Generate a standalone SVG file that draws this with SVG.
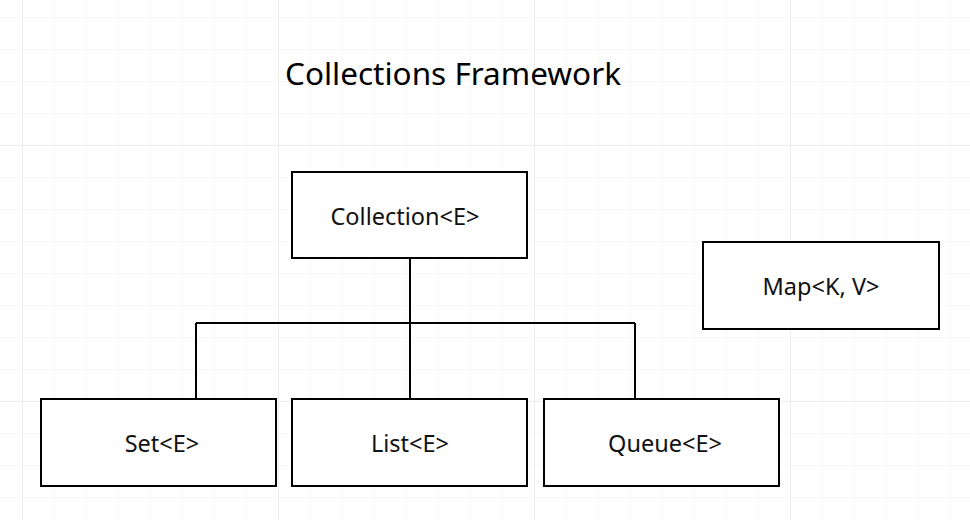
<svg xmlns="http://www.w3.org/2000/svg" width="970" height="520" viewBox="0 0 970 520">
<defs>
<pattern id="grid" x="22" y="17" width="32" height="32" patternUnits="userSpaceOnUse">
<path d="M0 0H32M0 0V32" fill="none" stroke="#f0f0f0" stroke-width="1"/>
</pattern>
<pattern id="major" x="22" y="145" width="256" height="256" patternUnits="userSpaceOnUse">
<path d="M0 0H256M0 0V256" fill="none" stroke="#e4e4e4" stroke-width="1"/>
</pattern>
</defs>
<style>
.box{fill:#fff;stroke:#000;stroke-width:2}
.lbl{font-family:"Noto Sans","Liberation Sans",sans-serif;font-size:23.5px;fill:#111;text-anchor:middle}
.title{font-family:"Noto Sans","Liberation Sans",sans-serif;font-size:31.5px;fill:#000;text-anchor:middle}
.conn{fill:none;stroke:#000;stroke-width:2}
</style>
<rect width="970" height="520" fill="#fff"/>
<rect width="970" height="520" fill="url(#grid)"/>
<rect width="970" height="520" fill="url(#major)"/>
<text class="title" x="453" y="85">Collections Framework</text>
<g id="connectors">
<path class="conn" d="M410 258V323M196 323H635M196 323V399M410 323V399M635 323V399"/>
</g>
<g id="collection"><rect class="box" x="292" y="172" width="235" height="86"/><text class="lbl" x="405" y="225">Collection&lt;E&gt;</text></g>
<g id="map"><rect class="box" x="703" y="242" width="236" height="87"/><text class="lbl" x="821" y="295">Map&lt;K, V&gt;</text></g>
<g id="set"><rect class="box" x="41" y="399" width="235" height="87"/><text class="lbl" x="162" y="452">Set&lt;E&gt;</text></g>
<g id="list"><rect class="box" x="292" y="399" width="235" height="87"/><text class="lbl" x="410" y="452">List&lt;E&gt;</text></g>
<g id="queue"><rect class="box" x="544" y="399" width="235" height="87"/><text class="lbl" x="665" y="452">Queue&lt;E&gt;</text></g>
</svg>
